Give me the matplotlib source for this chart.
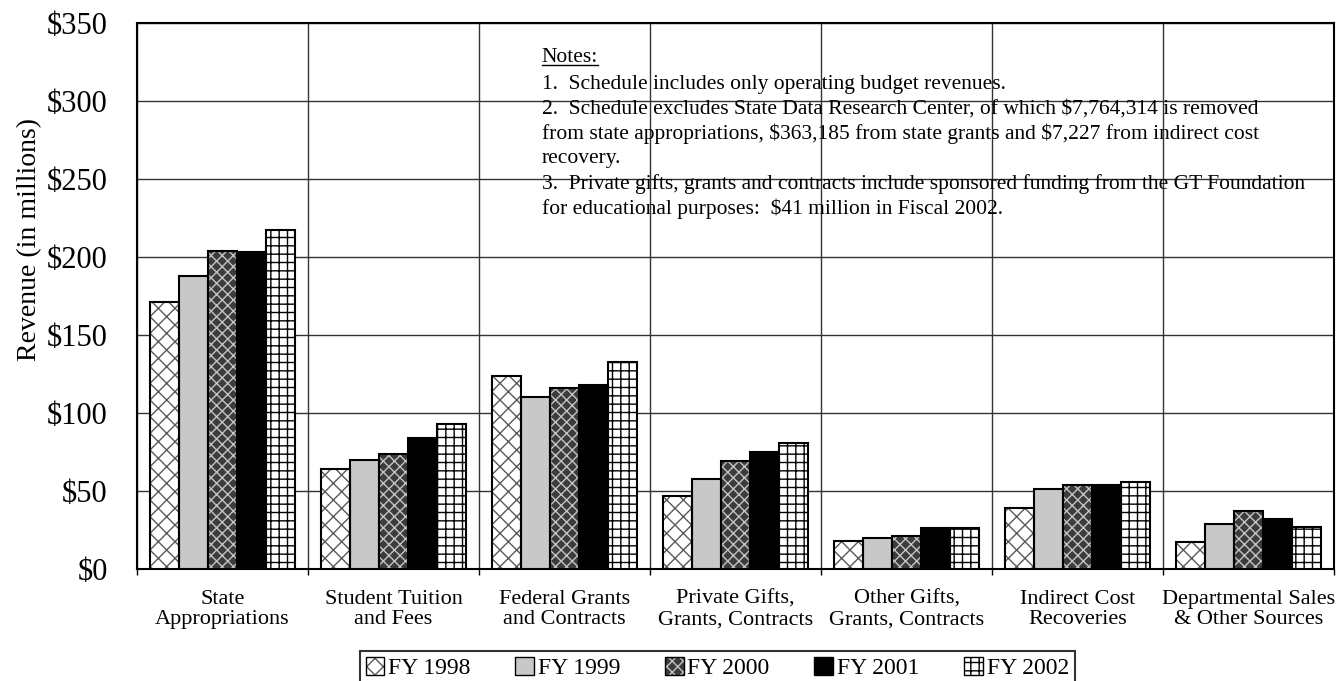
import matplotlib
matplotlib.use('Agg')
import matplotlib.pyplot as plt
import numpy as np
from matplotlib.patches import Patch
from matplotlib.legend_handler import HandlerTuple

plt.rcParams['font.family'] = ['Liberation Serif', 'DejaVu Serif']
plt.rcParams['hatch.linewidth'] = 1.0

#----------------------------- DATA ---------
categories = ['State\nAppropriations', 'Student Tuition\nand Fees', 'Federal Grants\nand Contracts',
              'Private Gifts,\nGrants, Contracts', 'Other Gifts,\nGrants, Contracts',
              'Indirect Cost\nRecoveries', 'Departmental Sales\n& Other Sources']
years = ['FY 1998', 'FY 1999', 'FY 2000', 'FY 2001', 'FY 2002']
fy1998 = [171, 64, 124, 47, 18, 39, 17]
fy1999 = [188, 70, 110, 58, 20, 51, 29]
fy2000 = [204, 74, 116, 69, 21, 54, 37]
fy2001 = [203, 84, 118, 75, 26, 54, 32]
fy2002 = [217, 93, 133, 81, 26, 56, 27]
series = [fy1998, fy1999, fy2000, fy2001, fy2002]

# face, hatch, hatch colour
styles = [('white', 'xx', '#5a5a5a'),
          ('#c8c8c8', '', '#c8c8c8'),
          ('#3c3c3c', 'xxx', '#c4c4c4'),
          ('black', '', 'black'),
          ('white', '++', 'black')]

notes = ["1.  Schedule includes only operating budget revenues.",
         "2.  Schedule excludes State Data Research Center, of which $7,764,314 is removed",
         "from state appropriations, $363,185 from state grants and $7,227 from indirect cost",
         "recovery.",
         "3.  Private gifts, grants and contracts include sponsored funding from the GT Foundation",
         "for educational purposes:  $41 million in Fiscal 2002."]

fig = plt.figure(figsize=(13.38, 6.81), dpi=100)
ax = fig.add_axes([137/1338, 112/681, 1197/1338, 546/681])

x = np.arange(len(categories))
w = 0.17
handles = []
for i, (vals, (fc, hatch, hc)) in enumerate(zip(series, styles)):
    pos = x + (i - 2) * w
    ax.bar(pos, vals, w, color=fc, hatch=hatch, edgecolor=hc, linewidth=0, zorder=3)
    ax.bar(pos, vals, w, fill=False, edgecolor='black', linewidth=1.5, zorder=4)
    h1 = Patch(facecolor=fc, hatch=hatch, edgecolor=hc, linewidth=0)
    h2 = Patch(fill=False, edgecolor='black', linewidth=1.0)
    handles.append((h1, h2))

ax.set_xlim(-0.5, len(categories) - 0.5)
ax.set_ylim(0, 350)
ax.set_yticks(range(0, 351, 50))
ax.set_yticklabels(['$%d' % v for v in range(0, 351, 50)], fontsize=22)
ax.set_xticks(x)
ax.set_xticklabels(categories, fontsize=16, linespacing=1.1)
ax.set_xticks(np.arange(len(categories) + 1) - 0.5, minor=True)
ax.tick_params(axis='y', length=0, pad=21)
ax.tick_params(axis='x', which='major', length=0, pad=15)
ax.tick_params(axis='x', which='minor', length=4, width=1)
ax.grid(axis='y', which='major', color='#333333', linewidth=1, zorder=0)
ax.grid(axis='x', which='minor', color='#333333', linewidth=1, zorder=0)
ax.set_axisbelow(True)
for s in ax.spines.values():
    s.set_linewidth(1.5)
ax.set_ylabel('Revenue (in millions)', fontsize=20)
ax.yaxis.set_label_coords(-0.079, 0.603)

# notes, one text per line (25 px apart)
x_note = 0.338
t = ax.text(x_note, (569 - 58) / 546, 'Notes:', transform=ax.transAxes, fontsize=15.5,
            va='center', ha='left', zorder=5)
for k, line in enumerate(notes):
    ax.text(x_note, (569 - 84 - 25 * k) / 546, line, transform=ax.transAxes, fontsize=15.5,
            va='center', ha='left', parse_math=False, zorder=5)
fig.canvas.draw()
bb = t.get_window_extent().transformed(ax.transAxes.inverted())
ax.plot([bb.x0, bb.x1], [bb.y0 + 0.004, bb.y0 + 0.004], color='black', linewidth=1,
        transform=ax.transAxes, zorder=5)

leg = fig.legend(handles, years, handler_map={tuple: HandlerTuple(ndivide=1)},
                 loc='upper center', bbox_to_anchor=(0.536, 30/681), ncol=5, fontsize=17,
                 frameon=True, fancybox=False, edgecolor='black', handlelength=0.8,
                 handleheight=0.8, handletextpad=0.15, columnspacing=1.9, borderpad=0.25,
                 borderaxespad=0)
leg.get_frame().set_linewidth(1.5)

plt.savefig('out.png', dpi=100)
